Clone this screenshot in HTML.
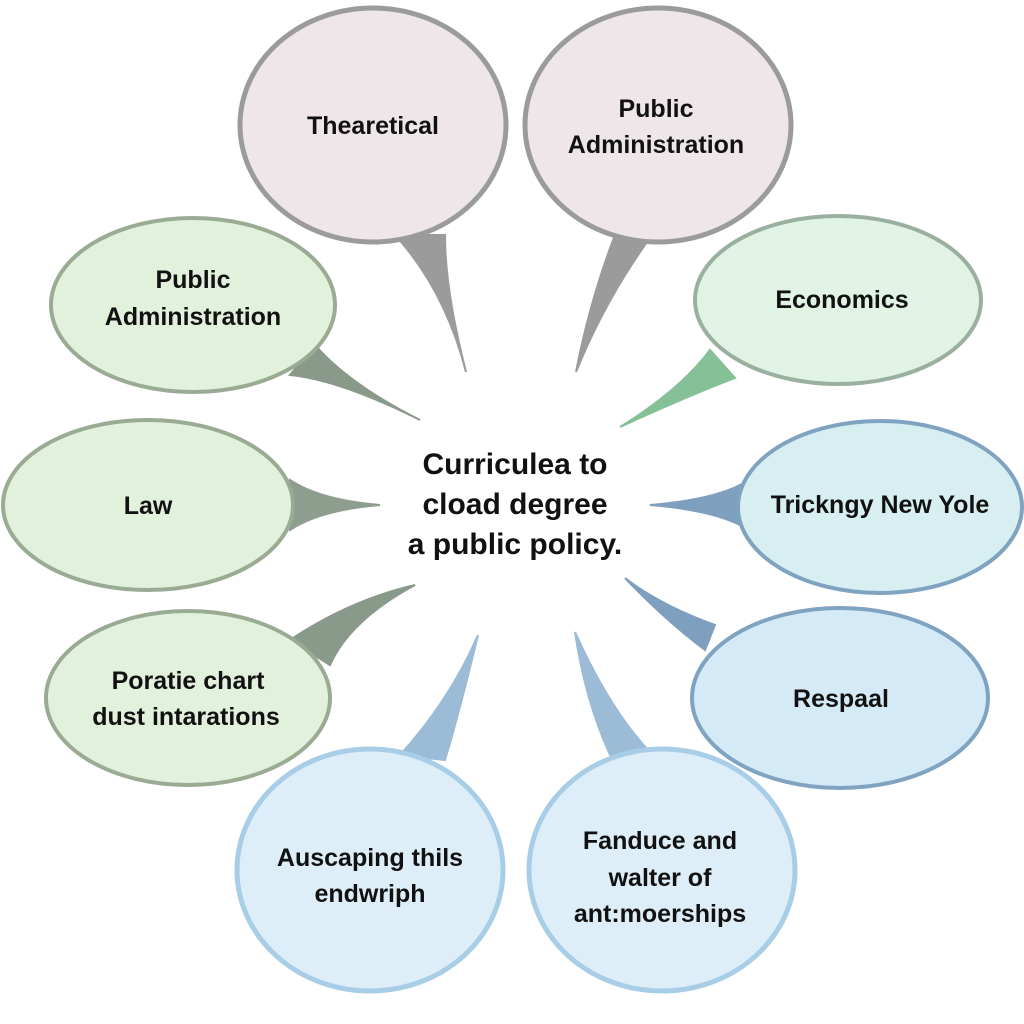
<!DOCTYPE html>
<html><head><style>html,body{margin:0;padding:0;background:#fff}svg{display:block}text{font-family:"Liberation Sans",sans-serif;font-weight:bold;fill:#111;text-anchor:middle}</style></head>
<body>
<svg width="1024" height="1024" viewBox="0 0 1024 1024">
<path d="M395,235 Q445,290 466,372 Q445,290 445,235 Z" fill="#9b9b9b" stroke="#9b9b9b" stroke-width="2"/>
<path d="M615,235 Q590,300 576,372 Q605,300 652,235 Z" fill="#9b9b9b" stroke="#9b9b9b" stroke-width="2"/>
<path d="M315,345 Q350,385 420,420 Q340,380 290,375 Z" fill="#8a9a8a" stroke="#8a9a8a" stroke-width="2"/>
<path d="M710,350 Q680,390 620,427 Q690,395 735,378 Z" fill="#86c096" stroke="#86c096" stroke-width="2"/>
<path d="M290,480 Q320,500 380,505 Q320,510 290,530 Z" fill="#8e9e8e" stroke="#8e9e8e" stroke-width="2"/>
<path d="M740,485 Q710,500 650,505 Q710,510 740,525 Z" fill="#7e9fbe" stroke="#7e9fbe" stroke-width="2"/>
<path d="M290,640 Q350,600 415,585 Q350,620 330,665 Z" fill="#8a9a8a" stroke="#8a9a8a" stroke-width="2"/>
<path d="M715,625 Q660,605 625,578 Q665,620 705,650 Z" fill="#7e9fbe" stroke="#7e9fbe" stroke-width="2"/>
<path d="M400,755 Q450,700 478,635 Q460,710 445,760 Z" fill="#9bbbd6" stroke="#9bbbd6" stroke-width="2"/>
<path d="M610,755 Q585,700 575,632 Q610,710 650,752 Z" fill="#9bbbd6" stroke="#9bbbd6" stroke-width="2"/>
<ellipse cx="373" cy="125" rx="133" ry="117" fill="#eee6e9" stroke="#9b9b9b" stroke-width="5"/>
<ellipse cx="658" cy="125" rx="133" ry="117" fill="#eee6e9" stroke="#9b9b9b" stroke-width="5"/>
<ellipse cx="193" cy="305" rx="142" ry="87" fill="#e2f1dc" stroke="#9aab94" stroke-width="4"/>
<ellipse cx="838" cy="300" rx="143" ry="84" fill="#e0f3e5" stroke="#9ab09f" stroke-width="4"/>
<ellipse cx="148" cy="505" rx="145" ry="85" fill="#e2f1dc" stroke="#9aab94" stroke-width="4"/>
<ellipse cx="880" cy="507" rx="142" ry="86" fill="#d8eff2" stroke="#7fa3c0" stroke-width="4"/>
<ellipse cx="188" cy="698" rx="142" ry="87" fill="#e2f1dc" stroke="#9aab94" stroke-width="4"/>
<ellipse cx="840" cy="698" rx="148" ry="90" fill="#d5eaf7" stroke="#7fa3c0" stroke-width="4"/>
<ellipse cx="370" cy="870" rx="133" ry="121" fill="#ddeef9" stroke="#a8cde6" stroke-width="5"/>
<ellipse cx="662" cy="870" rx="133" ry="121" fill="#ddeef9" stroke="#a8cde6" stroke-width="5"/>
<g font-size="25">
<text x="373" y="134">Thearetical</text>
<text x="656" y="117">Public</text>
<text x="656" y="153">Administration</text>
<text x="193" y="288">Public</text>
<text x="193" y="325">Administration</text>
<text x="842" y="308">Economics</text>
<text x="148" y="514">Law</text>
<text x="880" y="513">Trickngy New Yole</text>
<text x="188" y="689">Poratie chart</text>
<text x="186" y="725">dust intarations</text>
<text x="841" y="707">Respaal</text>
<text x="370" y="866">Auscaping thils</text>
<text x="370" y="902">endwriph</text>
<text x="660" y="849">Fanduce and</text>
<text x="660" y="886">walter of</text>
<text x="660" y="922">ant:moerships</text>
</g>
<g font-size="30">
<text x="515" y="474">Curriculea to</text>
<text x="515" y="514">cload degree</text>
<text x="515" y="554">a public policy.</text>
</g>
</svg>
</body></html>
